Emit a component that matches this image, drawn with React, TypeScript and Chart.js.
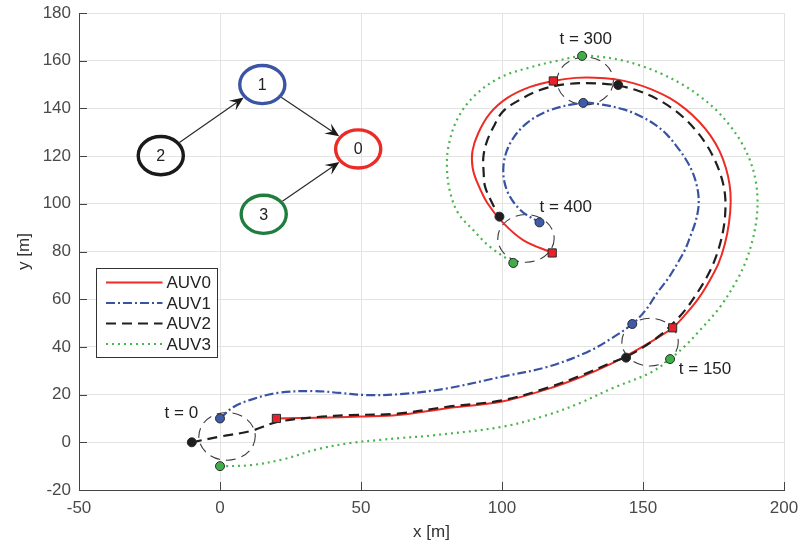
import React, { useEffect, useRef } from "react";
import { Chart, registerables } from "chart.js";
Chart.register(...registerables);

// ---------- axes ----------
const xTickValues = [-50, 0, 50, 100, 150, 200];
const yTickValues = [-20, 0, 20, 40, 60, 80, 100, 120, 140, 160, 180];

// ---------- trajectories ----------
const auv0X = [20, 35, 50, 63, 80, 100, 116, 128, 139, 146.5, 153.5, 160.5, 165, 169.5, 173, 176.7, 179, 180.5, 181.1, 180.7, 179.4, 177.2, 174, 170, 165, 159.5, 153, 146.5, 140, 133, 126, 118.2, 110, 101.9, 95.8, 91.6, 89.5, 89.6, 91.2, 94.8, 100.4, 107.5, 117.8];
const auv0Y = [10, 10.3, 10.8, 11.4, 14.2, 17.1, 22.3, 27.4, 33.1, 37.8, 42.6, 48, 53.5, 60, 66.5, 74.8, 83, 92, 101, 108, 115, 122, 128.5, 134.3, 139.8, 144.3, 148, 150.6, 152.2, 152.9, 152.8, 151.5, 149, 144.4, 138, 129.7, 122, 115, 109, 100.3, 92, 84.8, 79.4];

const auv1X = [0, 4.8, 10.8, 20.3, 33, 42.6, 52, 64, 80, 100, 116, 130.2, 139.4, 146.2, 151, 155, 158.8, 162.1, 164.8, 166.7, 168.5, 169.6, 169.7, 169, 167.5, 165, 162, 158.4, 154.5, 149.5, 143.1, 135, 128.8, 117.1, 108.8, 102.9, 100.5, 101.7, 106.5, 113.3];
const auv1Y = [10, 14.8, 17.8, 20.7, 21.5, 20.7, 19.8, 20.2, 22.5, 27.5, 31.6, 37.8, 44, 49.6, 55.5, 62.6, 68.5, 74.8, 80.5, 86.1, 92, 98, 103, 108, 113.5, 119, 124, 129.1, 133, 136.5, 139.6, 141.7, 142.3, 139.3, 133.8, 125.4, 115.6, 105.8, 97.4, 92.2];

const auv2X = [-10, 0, 10.8, 20.3, 34.5, 46.2, 63, 80, 100, 116, 128, 139, 144, 150, 156, 161, 165, 169.2, 172.5, 174.9, 176.8, 178.3, 179.1, 179.2, 178.5, 177, 175, 172.5, 169.3, 165, 160, 154.9, 148.5, 141.2, 133.6, 123, 113.5, 104.1, 100, 97, 94.6, 93.4, 93.5, 94, 96.5, 99.1];
const auv2Y = [0, 2.4, 4.7, 8.5, 10.6, 11.4, 12, 14.8, 17.6, 22.8, 28, 33.5, 35.8, 39.8, 44.8, 50.3, 55.5, 62.6, 69, 74.8, 81, 88, 95, 102, 108, 114, 119.5, 124.8, 130, 135.5, 140.3, 144, 147.3, 149.6, 150.5, 150.2, 147.7, 142.1, 138.3, 132.3, 126, 119.7, 113, 107.2, 100.3, 94.6];

const auv3X = [0, 10.8, 22.5, 34.5, 46.2, 56.8, 63.9, 74.6, 100, 116, 127.7, 139.4, 152.5, 159.6, 165, 170.2, 177.3, 183.3, 186.5, 188.9, 190.3, 190.6, 189.9, 188, 185, 181, 176.2, 170.5, 164, 157, 149.5, 142, 135, 128.4, 119.6, 110, 99.4, 89.9, 84, 81, 80.5, 81.7, 84.5, 89.8, 95.8, 104];
const auv3Y = [-10, -9.6, -7.1, -2.9, -0.3, 1, 1.8, 2.8, 6.5, 11.4, 16.5, 22.8, 29.1, 34.9, 40.5, 47, 56.7, 68, 76, 85, 94, 102, 110, 118, 125.5, 132.5, 139, 144.8, 150, 154.3, 157.8, 160.3, 161.6, 162, 160, 157.2, 153, 144.9, 135.1, 123.9, 114.2, 104.4, 96, 89, 81.9, 75.2];

// ---------- snapshots at t = 0, 150, 300, 400 ----------
const timeLabels = ["t = 0", "t = 150", "t = 300", "t = 400"];
const timeLabelX = [-13.7, 172, 129.7, 122.6];
const timeLabelY = [12.3, 30.7, 169.1, 98.5];
const auv0SnapX = [20, 160.5, 118.2, 117.8];
const auv0SnapY = [10, 48, 151.5, 79.4];
const auv1SnapX = [0, 146.2, 128.8, 113.3];
const auv1SnapY = [10, 49.6, 142.3, 92.2];
const auv2SnapX = [-10, 144, 141.2, 99.1];
const auv2SnapY = [0, 35.5, 149.8, 94.6];
const auv3SnapX = [0, 159.6, 128.4, 104];
const auv3SnapY = [-10, 34.9, 162, 75.2];
const formationCX = [2.5, 152.5, 129.5, 108.5];
const formationCY = [2.5, 42, 151.5, 85.5];
const formationR = [10, 10, 10, 10];

// ---------- communication graph ----------
const nodeLabels = ["0", "1", "2", "3"];
const nodeX = [49, 15, -21, 15.5];
const nodeY = [123, 150, 120.2, 95.6];
const nodeR = [8, 8, 8, 8];
const nodeColors = ["#ec2a26", "#3b55a6", "#1a1a1a", "#1f7d3e"];
const edgeFrom = [2, 1, 3];
const edgeTo = [1, 0, 0];

// ---------- legend ----------
const legendNames = ["AUV0", "AUV1", "AUV2", "AUV3"];

const RED = "#ee2b24";
const BLUE = "#3953a4";
const BLACK = "#1f1f1f";
const GREEN = "#49b64c";
const lineColors = [RED, BLUE, BLACK, GREEN];
const lineDashes: number[][] = [[], [9, 3, 2, 3], [10, 6], [2, 4]];
const FONT = "'Liberation Sans', Arial, sans-serif";

const pts = (xs: number[], ys: number[]) => xs.map((v, i) => ({ x: v, y: ys[i] }));

const decor = {
  id: "decor",
  beforeDatasetsDraw(chart: any) {
    const { ctx, scales, chartArea } = chart;
    const sx = scales.x, sy = scales.y;
    ctx.save();
    ctx.beginPath();
    ctx.rect(chartArea.left, chartArea.top, chartArea.width, chartArea.height);
    ctx.clip();
    ctx.strokeStyle = "#3a3a3a";
    ctx.lineWidth = 1.1;
    ctx.setLineDash([10, 6]);
    for (let i = 0; i < formationCX.length; i++) {
      const cx = sx.getPixelForValue(formationCX[i]);
      const cy = sy.getPixelForValue(formationCY[i]);
      const rx = Math.abs(sx.getPixelForValue(formationCX[i] + formationR[i]) - cx);
      const ry = Math.abs(sy.getPixelForValue(formationCY[i] + formationR[i]) - cy);
      ctx.beginPath();
      ctx.ellipse(cx, cy, rx, ry, 0, 0, Math.PI * 2);
      ctx.stroke();
    }
    ctx.restore();
  },
  afterDatasetsDraw(chart: any) {
    const { ctx, scales } = chart;
    const sx = scales.x, sy = scales.y;
    ctx.save();
    // time labels
    ctx.fillStyle = "#222";
    ctx.font = `17px ${FONT}`;
    ctx.textAlign = "center";
    ctx.textBaseline = "middle";
    for (let i = 0; i < timeLabels.length; i++) {
      ctx.fillText(timeLabels[i], sx.getPixelForValue(timeLabelX[i]), sy.getPixelForValue(timeLabelY[i]));
    }
    // graph edges
    const edgePoint = (i: number, ux: number, uy: number) => {
      const cx = sx.getPixelForValue(nodeX[i]);
      const cy = sy.getPixelForValue(nodeY[i]);
      const rx = Math.abs(sx.getPixelForValue(nodeX[i] + nodeR[i]) - cx) + 1.5;
      const ry = Math.abs(sy.getPixelForValue(nodeY[i] + nodeR[i]) - cy) + 1.5;
      const t = 1 / Math.sqrt((ux / rx) ** 2 + (uy / ry) ** 2);
      return [cx + ux * t, cy + uy * t];
    };
    for (let e = 0; e < edgeFrom.length; e++) {
      const a = edgeFrom[e], b = edgeTo[e];
      const ax = sx.getPixelForValue(nodeX[a]), ay = sy.getPixelForValue(nodeY[a]);
      const bx = sx.getPixelForValue(nodeX[b]), by = sy.getPixelForValue(nodeY[b]);
      const d = Math.hypot(bx - ax, by - ay);
      const ux = (bx - ax) / d, uy = (by - ay) / d;
      const [s0, s1] = edgePoint(a, ux, uy);
      const [t0, t1] = edgePoint(b, -ux, -uy);
      const L = 14, W = 6;
      ctx.strokeStyle = "#2a2a2a";
      ctx.lineWidth = 1.2;
      ctx.beginPath();
      ctx.moveTo(s0, s1);
      ctx.lineTo(t0 - ux * L * 0.6, t1 - uy * L * 0.6);
      ctx.stroke();
      const nx = -uy, ny = ux;
      ctx.fillStyle = "#1a1a1a";
      ctx.beginPath();
      ctx.moveTo(t0, t1);
      ctx.lineTo(t0 - ux * L + nx * W, t1 - uy * L + ny * W);
      ctx.lineTo(t0 - ux * L * 0.6, t1 - uy * L * 0.6);
      ctx.lineTo(t0 - ux * L - nx * W, t1 - uy * L - ny * W);
      ctx.closePath();
      ctx.fill();
    }
    // graph nodes
    for (let i = 0; i < nodeLabels.length; i++) {
      const cx = sx.getPixelForValue(nodeX[i]);
      const cy = sy.getPixelForValue(nodeY[i]);
      const rx = Math.abs(sx.getPixelForValue(nodeX[i] + nodeR[i]) - cx);
      const ry = Math.abs(sy.getPixelForValue(nodeY[i] + nodeR[i]) - cy);
      ctx.strokeStyle = nodeColors[i];
      ctx.lineWidth = 3.4;
      ctx.beginPath();
      ctx.ellipse(cx, cy, rx, ry, 0, 0, Math.PI * 2);
      ctx.stroke();
      ctx.fillStyle = "#222";
      ctx.font = `16px ${FONT}`;
      ctx.fillText(nodeLabels[i], cx, cy + 1);
    }
    // legend
    const lx = 96.5, ly = 268.5, lw = 121, lh = 89;
    ctx.fillStyle = "#fff";
    ctx.fillRect(lx, ly, lw, lh);
    ctx.strokeStyle = "#333";
    ctx.lineWidth = 1;
    ctx.setLineDash([]);
    ctx.strokeRect(lx, ly, lw, lh);
    ctx.textAlign = "left";
    ctx.font = `17px ${FONT}`;
    for (let i = 0; i < legendNames.length; i++) {
      const yy = ly + 14 + i * 20.5;
      ctx.strokeStyle = lineColors[i];
      ctx.lineWidth = 2.2;
      ctx.setLineDash(lineDashes[i]);
      ctx.beginPath();
      ctx.moveTo(lx + 9.5, yy);
      ctx.lineTo(lx + 66, yy);
      ctx.stroke();
      ctx.setLineDash([]);
      ctx.fillStyle = "#222";
      ctx.fillText(legendNames[i], lx + 70, yy + 1);
    }
    ctx.restore();
  },
  afterDraw(chart: any) {
    const { ctx, scales, chartArea } = chart;
    const sx = scales.x, sy = scales.y;
    ctx.save();
    ctx.strokeStyle = "#444";
    ctx.lineWidth = 1;
    ctx.beginPath();
    for (const v of xTickValues) {
      const px = Math.round(sx.getPixelForValue(v)) + 0.5;
      ctx.moveTo(px, chartArea.bottom);
      ctx.lineTo(px, chartArea.bottom - 8);
    }
    for (const v of yTickValues) {
      const py = Math.round(sy.getPixelForValue(v)) + 0.5;
      ctx.moveTo(chartArea.left, py);
      ctx.lineTo(chartArea.left + 8, py);
    }
    ctx.stroke();
    ctx.restore();
  },
};

export default function App() {
  const ref = useRef<HTMLCanvasElement>(null);
  useEffect(() => {
    if (!ref.current) return;
    const snap = (xs: number[], ys: number[], color: string, style: string, r: number) => ({
      type: "scatter" as const,
      data: pts(xs, ys),
      showLine: false,
      pointStyle: style,
      pointRadius: r,
      pointBackgroundColor: color,
      pointBorderColor: "#2a2a2a",
      pointBorderWidth: 1,
    });
    const line = (xs: number[], ys: number[], i: number) => ({
      type: "scatter" as const,
      data: pts(xs, ys),
      showLine: true,
      borderColor: lineColors[i],
      borderWidth: i === 0 ? 2 : 2.2,
      borderDash: lineDashes[i],
      pointRadius: 0,
      tension: 0.35,
      fill: false,
    });
    const chart = new Chart(ref.current, {
      type: "scatter",
      data: {
        datasets: [
          snap(auv0SnapX, auv0SnapY, "#e8212a", "rect", 5.8),
          snap(auv1SnapX, auv1SnapY, "#3e5ba9", "circle", 4.5),
          snap(auv2SnapX, auv2SnapY, "#1e1e1e", "circle", 4.5),
          snap(auv3SnapX, auv3SnapY, "#3fae49", "circle", 4.5),
          line(auv2X, auv2Y, 2),
          line(auv0X, auv0Y, 0),
          line(auv1X, auv1Y, 1),
          line(auv3X, auv3Y, 3),
        ] as any,
      },
      options: {
        animation: false,
        responsive: false,
        devicePixelRatio: 1,
        layout: { padding: { left: 0, right: 16, top: 13, bottom: 0 } },
        plugins: { legend: { display: false }, tooltip: { enabled: false } },
        scales: {
          x: {
            type: "linear",
            min: -50,
            max: 200,
            afterBuildTicks: (s: any) => { s.ticks = xTickValues.map((v) => ({ value: v })); },
            afterFit: (s: any) => { s.height = 57; s.paddingLeft = 0; s.paddingRight = 0; },
            grid: { color: "#e3e3e3", lineWidth: 1, drawTicks: false },
            border: { display: true, color: "#444", width: 1 },
            ticks: { color: "#4a4a4a", font: { size: 17, family: FONT }, padding: 8, maxRotation: 0 },
            title: { display: true, text: "x [m]", color: "#333", font: { size: 17, family: FONT }, padding: { bottom: 4, top: 0 } },
          },
          y: {
            type: "linear",
            min: -20,
            max: 180,
            afterBuildTicks: (s: any) => { s.ticks = yTickValues.map((v) => ({ value: v })); },
            afterFit: (s: any) => { s.width = 79; s.paddingTop = 0; s.paddingBottom = 0; },
            grid: { color: "#e3e3e3", lineWidth: 1, drawTicks: false },
            border: { display: true, color: "#444", width: 1 },
            ticks: { color: "#4a4a4a", font: { size: 17, family: FONT }, padding: 8 },
            title: { display: true, text: "y [m]", color: "#333", font: { size: 17, family: FONT }, padding: { top: 14, bottom: 0 } },
          },
        },
      },
      plugins: [decor],
    } as any);
    return () => chart.destroy();
  }, []);
  return (
    <div style={{ position: "fixed", left: 0, top: 0, width: 800, height: 547, background: "#fff" }}>
      <canvas ref={ref} width={800} height={547} style={{ display: "block" }} />
    </div>
  );
}
